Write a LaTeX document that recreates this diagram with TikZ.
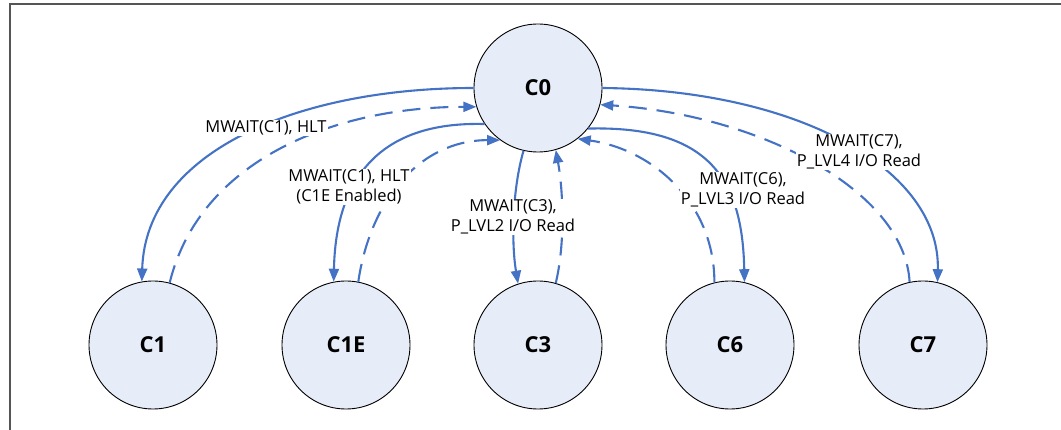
\documentclass[tikz,border=0pt]{standalone}
\usepackage{fontspec}
\setmainfont{Open Sans}
\usetikzlibrary{arrows.meta}
\definecolor{edgeblue}{RGB}{68,114,196}
\definecolor{statefill}{RGB}{231,237,248}
\definecolor{framegray}{RGB}{85,85,85}
\tikzset{
  state/.style={circle, draw=black, line width=0.9pt, fill=statefill, minimum size=128pt, inner sep=0pt, font=\fontsize{22}{26}\selectfont\bfseries},
  enter/.style={draw=edgeblue, line width=2.1pt, -{Triangle[length=13pt,width=10pt]}},
  exitpath/.style={enter, dash pattern=on 18pt off 10pt},
  lbl/.style={fill=white, inner sep=1pt, align=center, font=\fontsize{16.5}{20}\selectfont}
}
\begin{document}
\begin{tikzpicture}[x=1pt,y=-1pt]
\useasboundingbox (0,0) rectangle (1061,430);
\draw[framegray, line width=2pt] (9.5,431) -- (9.5,4) -- (1062,4);

\node[state] (C0) at (538,88) {C0};
\node[state] (C1) at (153,345) {C1};
\node[state] (C1E) at (346,345) {C1E};
\node[state] (C3) at (538,345) {C3};
\node[state] (C6) at (730,345) {C6};
\node[state] (C7) at (923,345) {C7};

% C1
\draw[enter] (C0.180) .. controls +(-174,0) and +(4,-131) .. (C1.100);
\draw[exitpath] (C1.75) .. controls +(30,-122) and +(-143,0) .. (C0.197);
% C1E
\draw[enter] (C0.214) .. controls +(-108,-3) and +(2,-100) .. (C1E.101);
\draw[exitpath] (C1E.79) .. controls +(12,-82) and +(-80,0) .. (C0.234);
% C3
\draw[enter] (C0.257) .. controls +(-11,38) and +(-7,-42) .. (C3.108);
\draw[exitpath] (C3.74) .. controls +(10,-42) and +(7,38) .. (C0.286);
% C6
\draw[enter] (C0.321) .. controls +(122,-3) and +(-2,-102) .. (C6.77);
\draw[exitpath] (C6.104) .. controls +(0,-82) and +(72,10) .. (C0.308);
% C7
\draw[enter] (C0.0) .. controls +(198,2) and +(3,-112) .. (C7.77);
\draw[exitpath] (C7.102) .. controls +(-5,-92) and +(158,10) .. (C0.345);

\node[lbl] (L1) at (266,128) {MWAIT(C1), HLT};
\node[lbl] (L2) at (349,187) {MWAIT(C1), HLT\\(C1E Enabled)};
\node[lbl] (L3) at (513,217) {MWAIT(C3),\\P\_LVL2 I/O Read};
\node[lbl] (L4) at (743,190) {MWAIT(C6),\\P\_LVL3 I/O Read};
\node[lbl] (L5) at (859,152) {MWAIT(C7),\\P\_LVL4 I/O Read};
\end{tikzpicture}
\end{document}
